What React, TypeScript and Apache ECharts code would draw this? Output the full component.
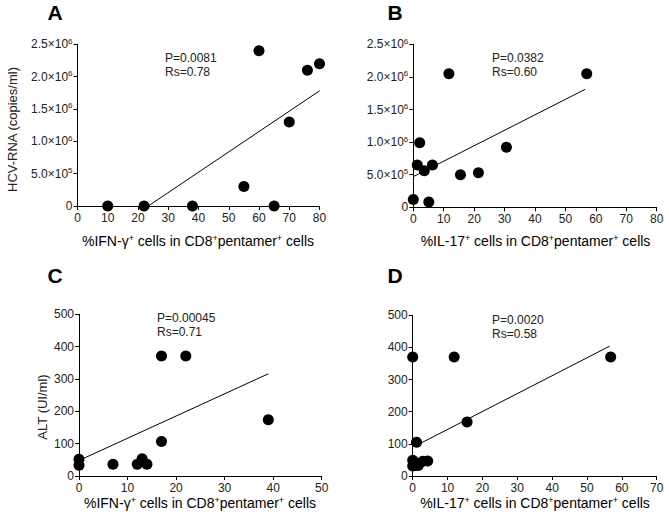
import React, { useEffect, useRef } from "react";
import * as echarts from "echarts";

// ---- Data ----
const panelTitles = ["A", "B", "C", "D"];

const ifnHcvX = [10, 22, 38, 55, 60, 65, 70, 76, 80];
const ifnHcvY = [0, 0, 0, 300000, 2400000, 0, 1300000, 2100000, 2200000];
const ifnHcvFit = [[23.4, 0], [80, 1780000]];

const il17HcvX = [0, 1.3, 2.1, 3.6, 5.1, 6.3, 11.7, 15.5, 21.4, 30.6, 57];
const il17HcvY = [120000, 650000, 990000, 560000, 80000, 650000, 2050000, 500000, 530000, 920000, 2050000];
const il17HcvFit = [[0, 470000], [56.5, 1810000]];

const ifnAltX = [0, 0, 7, 12, 13, 14, 17, 17, 22, 39];
const ifnAltY = [52, 33, 36, 36, 53, 36, 107, 371, 371, 174];
const ifnAltFit = [[0, 48], [39, 316]];

const il17AltX = [0, 0, 0.2, 0.6, 1.6, 2.9, 4.3, 1.1, 15.6, 0, 11.9, 56.8];
const il17AltY = [49, 31, 45, 33, 33, 46, 47, 105, 168, 370, 370, 370];
const il17AltFit = [[0.5, 92], [56.5, 404]];

const statsP = ["P=0.0081", "P=0.0382", "P=0.00045", "P=0.0020"];
const statsRs = ["Rs=0.78", "Rs=0.60", "Rs=0.71", "Rs=0.58"];

const hcvTickLabels = ["0", "5.0×10|5", "1.0×10|6", "1.5×10|6", "2.0×10|6", "2.5×10|6"];
const altTickLabels = ["0", "100", "200", "300", "400", "500"];

const xNameIfn = "%IFN-γ{s|+} cells in CD8{s|+}pentamer{s|+} cells";
const xNameIl17 = "%IL-17{s|+} cells in CD8{s|+}pentamer{s|+} cells";
const yNameHcv = "HCV-RNA (copies/ml)";
const yNameAlt = "ALT (UI/ml)";

const FONT = "Liberation Sans, Arial, sans-serif";
const TXT = "#222";

const richSup = {
  b: { fontSize: 12, lineHeight: 14, fontFamily: FONT, color: TXT },
  s: { fontSize: 8, lineHeight: 6, fontFamily: FONT, color: TXT, verticalAlign: "top" as const },
};
const richSupName = {
  n: { fontSize: 14, lineHeight: 15, fontFamily: FONT, color: TXT },
  s: { fontSize: 9, lineHeight: 8, fontFamily: FONT, color: TXT, verticalAlign: "top" as const },
};

function hcvFormatter(v: number) {
  const idx = Math.round(v / 500000);
  const lab = hcvTickLabels[idx] ?? "";
  if (!lab.includes("|")) return "{b|" + lab + "}";
  const [m, e] = lab.split("|");
  return "{b|" + m + "}{s|" + e + "}";
}
function altFormatter(v: number) {
  const idx = Math.round(v / 100);
  return altTickLabels[idx] ?? "";
}

function zip(xs: number[], ys: number[]) {
  return xs.map((x, i) => [x, ys[i]]);
}
function nameRich(s: string) {
  return s
    .split(/(\{s\|\+\})/)
    .map((p) => (p.startsWith("{s|") ? p : p ? "{n|" + p + "}" : ""))
    .join("");
}

export default function App() {
  const ref = useRef<HTMLDivElement>(null);
  useEffect(() => {
    if (!ref.current) return;
    const chart = echarts.init(ref.current, null, { renderer: "svg" });

    const grids = [
      { left: 77.5, top: 44.3, width: 242, height: 161.7 },
      { left: 413.3, top: 44.3, width: 243.4, height: 163 },
      { left: 79, top: 314.3, width: 242.7, height: 161.7 },
      { left: 412.7, top: 315.3, width: 244, height: 160.7 },
    ];

    const axisCommon = {
      axisLine: { show: true, onZero: false, lineStyle: { color: "#000", width: 1 } },
      axisTick: { show: true, length: 4, lineStyle: { color: "#000", width: 1 } },
      splitLine: { show: false },
    };

    const xMax = [80, 80, 50, 70];
    const xAxes = xMax.map((mx, i) => ({
      type: "value" as const,
      gridIndex: i,
      min: 0,
      max: mx,
      interval: 10,
      ...axisCommon,
      axisLabel: { fontSize: 12, fontFamily: FONT, color: TXT, margin: 6 },
    }));

    const yAxes = [0, 1, 2, 3].map((i) => ({
      type: "value" as const,
      gridIndex: i,
      min: 0,
      max: i < 2 ? 2500000 : 500,
      interval: i < 2 ? 500000 : 100,
      ...axisCommon,
      axisLabel:
        i < 2
          ? { formatter: hcvFormatter, rich: richSup, margin: 5 }
          : { formatter: altFormatter, fontSize: 12, fontFamily: FONT, color: TXT, margin: 5 },
    }));

    const pts = [
      zip(ifnHcvX, ifnHcvY),
      zip(il17HcvX, il17HcvY),
      zip(ifnAltX, ifnAltY),
      zip(il17AltX, il17AltY),
    ];
    const fits = [ifnHcvFit, il17HcvFit, ifnAltFit, il17AltFit];

    const series: any[] = [];
    for (let i = 0; i < 4; i++) {
      series.push({
        type: "line",
        xAxisIndex: i,
        yAxisIndex: i,
        data: fits[i],
        showSymbol: false,
        symbol: "none",
        lineStyle: { color: "#000", width: 1 },
        silent: true,
        z: 2,
      });
      series.push({
        type: "scatter",
        xAxisIndex: i,
        yAxisIndex: i,
        data: pts[i],
        symbol: "circle",
        symbolSize: 11,
        itemStyle: { color: "#000", opacity: 1 },
        clip: false,
        z: 3,
      });
    }

    const titlePos = [
      [55, 12.5],
      [395, 12.5],
      [55, 275.5],
      [395, 275.5],
    ];
    const statPos = [
      [165, 50.5],
      [492, 51],
      [157, 311],
      [492, 313],
    ];
    const xNamePos = [
      [198, 241],
      [535.5, 241],
      [200, 503],
      [535, 503],
    ];
    const xNames = [xNameIfn, xNameIl17, xNameIfn, xNameIl17];

    const graphics: any[] = [];
    for (let i = 0; i < 4; i++) {
      graphics.push({
        type: "text",
        x: titlePos[i][0],
        y: titlePos[i][1],
        style: {
          text: panelTitles[i],
          fontSize: 21,
          fontWeight: "bold",
          fontFamily: FONT,
          fill: "#000",
          textAlign: "center",
          textVerticalAlign: "middle",
        },
      });
      graphics.push({
        type: "text",
        x: statPos[i][0],
        y: statPos[i][1],
        style: {
          text: statsP[i] + "\n" + statsRs[i],
          fontSize: 12,
          lineHeight: 14,
          fontFamily: FONT,
          fill: TXT,
          textAlign: "left",
          textVerticalAlign: "top",
        },
      });
      graphics.push({
        type: "text",
        x: xNamePos[i][0],
        y: xNamePos[i][1],
        style: {
          text: nameRich(xNames[i]),
          rich: richSupName,
          textAlign: "center",
          textVerticalAlign: "middle",
        },
      });
    }
    graphics.push({
      type: "text",
      x: 12.5,
      y: 129.5,
      rotation: Math.PI / 2,
      style: {
        text: yNameHcv,
        fontSize: 13,
        fontFamily: FONT,
        fill: TXT,
        textAlign: "center",
        textVerticalAlign: "middle",
      },
    });
    graphics.push({
      type: "text",
      x: 42,
      y: 407,
      rotation: Math.PI / 2,
      style: {
        text: yNameAlt,
        fontSize: 13,
        fontFamily: FONT,
        fill: TXT,
        textAlign: "center",
        textVerticalAlign: "middle",
      },
    });

    chart.setOption({
      animation: false,
      backgroundColor: "#fff",
      textStyle: { fontFamily: FONT },
      grid: grids,
      xAxis: xAxes,
      yAxis: yAxes,
      series,
      graphic: graphics,
    });
    return () => chart.dispose();
  }, []);

  return (
    <div
      ref={ref}
      style={{ position: "fixed", left: 0, top: 0, width: 669, height: 524, background: "#fff" }}
    />
  );
}
